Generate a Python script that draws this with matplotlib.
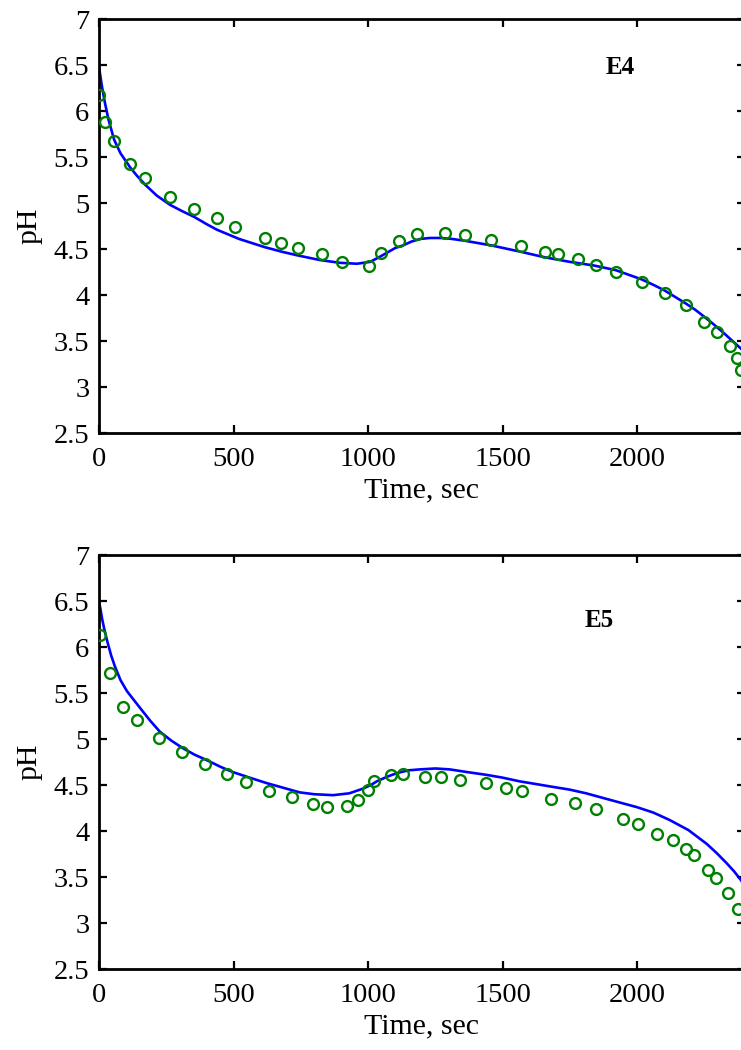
import numpy as np
import matplotlib.pyplot as plt

# --- E4: measured pH (circles) and model (line) ---
e4_time = [0, 22, 56, 115, 171, 264, 353, 438, 505, 616, 676, 739, 828, 903,
           1003, 1048, 1115, 1181, 1284, 1359, 1456, 1567, 1656, 1704, 1779,
           1846, 1920, 2016, 2101, 2179, 2246, 2295, 2344, 2369, 2384]
e4_ph = [6.17, 5.88, 5.67, 5.42, 5.27, 5.07, 4.93, 4.84, 4.74, 4.62, 4.57,
         4.51, 4.45, 4.36, 4.32, 4.46, 4.59, 4.66, 4.67, 4.65, 4.60, 4.53,
         4.47, 4.45, 4.39, 4.33, 4.25, 4.14, 4.02, 3.89, 3.71, 3.60, 3.45,
         3.32, 3.18]

e4_model_time = [0, 5, 12, 22, 35, 56, 80, 115, 140, 171, 215, 264, 310, 353,
                 400, 438, 520, 616, 680, 739, 821, 895, 958, 1007, 1040, 1070,
                 1100, 1130, 1160, 1195, 1230, 1270, 1310, 1359, 1456, 1567,
                 1656, 1750, 1840, 1920, 2016, 2060, 2101, 2140, 2179, 2215,
                 2246, 2280, 2316, 2350, 2384, 2410]
e4_model_ph = [6.48, 6.38, 6.25, 6.09, 5.91, 5.69, 5.54, 5.39, 5.30, 5.20,
               5.08, 4.98, 4.91, 4.85, 4.77, 4.71, 4.61, 4.52, 4.47, 4.43,
               4.38, 4.35, 4.34, 4.36, 4.41, 4.46, 4.51, 4.54, 4.58, 4.61,
               4.62, 4.62, 4.61, 4.59, 4.54, 4.47, 4.41, 4.36, 4.32, 4.27,
               4.17, 4.11, 4.05, 3.98, 3.91, 3.84, 3.77, 3.69, 3.60, 3.51,
               3.42, 3.34]

# --- E5 ---
e5_time = [4, 41, 89, 141, 223, 308, 394, 475, 546, 631, 717, 795, 847, 921,
           962, 999, 1021, 1084, 1129, 1211, 1270, 1340, 1437, 1511, 1571,
           1678, 1768, 1846, 1946, 2001, 2072, 2131, 2180, 2209, 2261, 2291,
           2336, 2373]
e5_ph = [6.13, 5.72, 5.35, 5.21, 5.01, 4.86, 4.73, 4.62, 4.53, 4.43, 4.37,
         4.29, 4.26, 4.27, 4.34, 4.45, 4.54, 4.61, 4.62, 4.59, 4.59, 4.55,
         4.52, 4.47, 4.43, 4.35, 4.30, 4.24, 4.13, 4.08, 3.97, 3.90, 3.80,
         3.74, 3.58, 3.49, 3.33, 3.15]

e5_model_time = [0, 5, 12, 20, 30, 45, 59, 80, 104, 128, 152, 190, 226, 270,
                 312, 355, 401, 450, 498, 560, 624, 685, 746, 800, 870, 930,
                 980, 1010, 1032, 1070, 1107, 1150, 1192, 1250, 1303, 1370,
                 1441, 1500, 1563, 1625, 1686, 1749, 1810, 1872, 1935, 1998,
                 2060, 2120, 2190, 2258, 2295, 2332, 2360, 2384, 2405]
e5_model_ph = [6.49, 6.42, 6.30, 6.19, 6.07, 5.91, 5.79, 5.64, 5.52, 5.43,
               5.34, 5.20, 5.08, 4.98, 4.90, 4.83, 4.77, 4.70, 4.64, 4.58,
               4.52, 4.47, 4.42, 4.40, 4.39, 4.41, 4.46, 4.50, 4.54, 4.59,
               4.63, 4.66, 4.67, 4.68, 4.67, 4.64, 4.61, 4.58, 4.54, 4.51,
               4.48, 4.45, 4.41, 4.36, 4.31, 4.26, 4.20, 4.12, 4.01, 3.86,
               3.76, 3.65, 3.56, 3.47, 3.38]

y_ticks = [2.5, 3, 3.5, 4, 4.5, 5, 5.5, 6, 6.5, 7]
y_labels = ['2.5', '3', '3.5', '4', '4.5', '5', '5.5', '6', '6.5', '7']
x_ticks = [0, 500, 1000, 1500, 2000]

plt.rcParams['font.family'] = ['Liberation Serif', 'DejaVu Serif']
plt.rcParams['font.size'] = 20

fig = plt.figure(figsize=(7.41, 10.5), dpi=100)

panels = [
    (0.5876, e4_time, e4_ph, e4_model_time, e4_model_ph, "E4", 1935, 6.47),
    (0.0771, e5_time, e5_ph, e5_model_time, e5_model_ph, "E5", 1860, 6.29),
]

for bottom, t, ph, mt, mph, name, lx, ly in panels:
    # right edge of the axes sits just past the figure border
    ax = fig.add_axes([0.1336, bottom, 0.8718, 0.3943])
    ax.plot(mt, mph, color='#0000ff', lw=1.9, zorder=2)
    ax.plot(t, ph, 'o', mfc='none', mec='#008000', ms=7.8, mew=1.7, zorder=3)

    ax.set_xlim(0, 2400)
    ax.set_ylim(2.5, 7)
    ax.set_xticks(x_ticks)
    ax.set_yticks(y_ticks)
    ax.set_yticklabels(y_labels)
    ax.tick_params(direction='in', length=6, width=1.6, top=True, right=True,
                   labelsize=20.5)
    ax.tick_params(axis='y', pad=7)
    ax.tick_params(axis='x', pad=10)
    for s in ax.spines.values():
        s.set_linewidth(2.0)

    ax.set_xlabel("Time, sec", fontsize=21.5, labelpad=4)
    ax.set_ylabel("pH", fontsize=21.5, labelpad=8)
    ax.text(lx, ly, name, fontsize=18, fontweight='bold', ha='center', va='center')

fig.savefig("out.png", dpi=100)
